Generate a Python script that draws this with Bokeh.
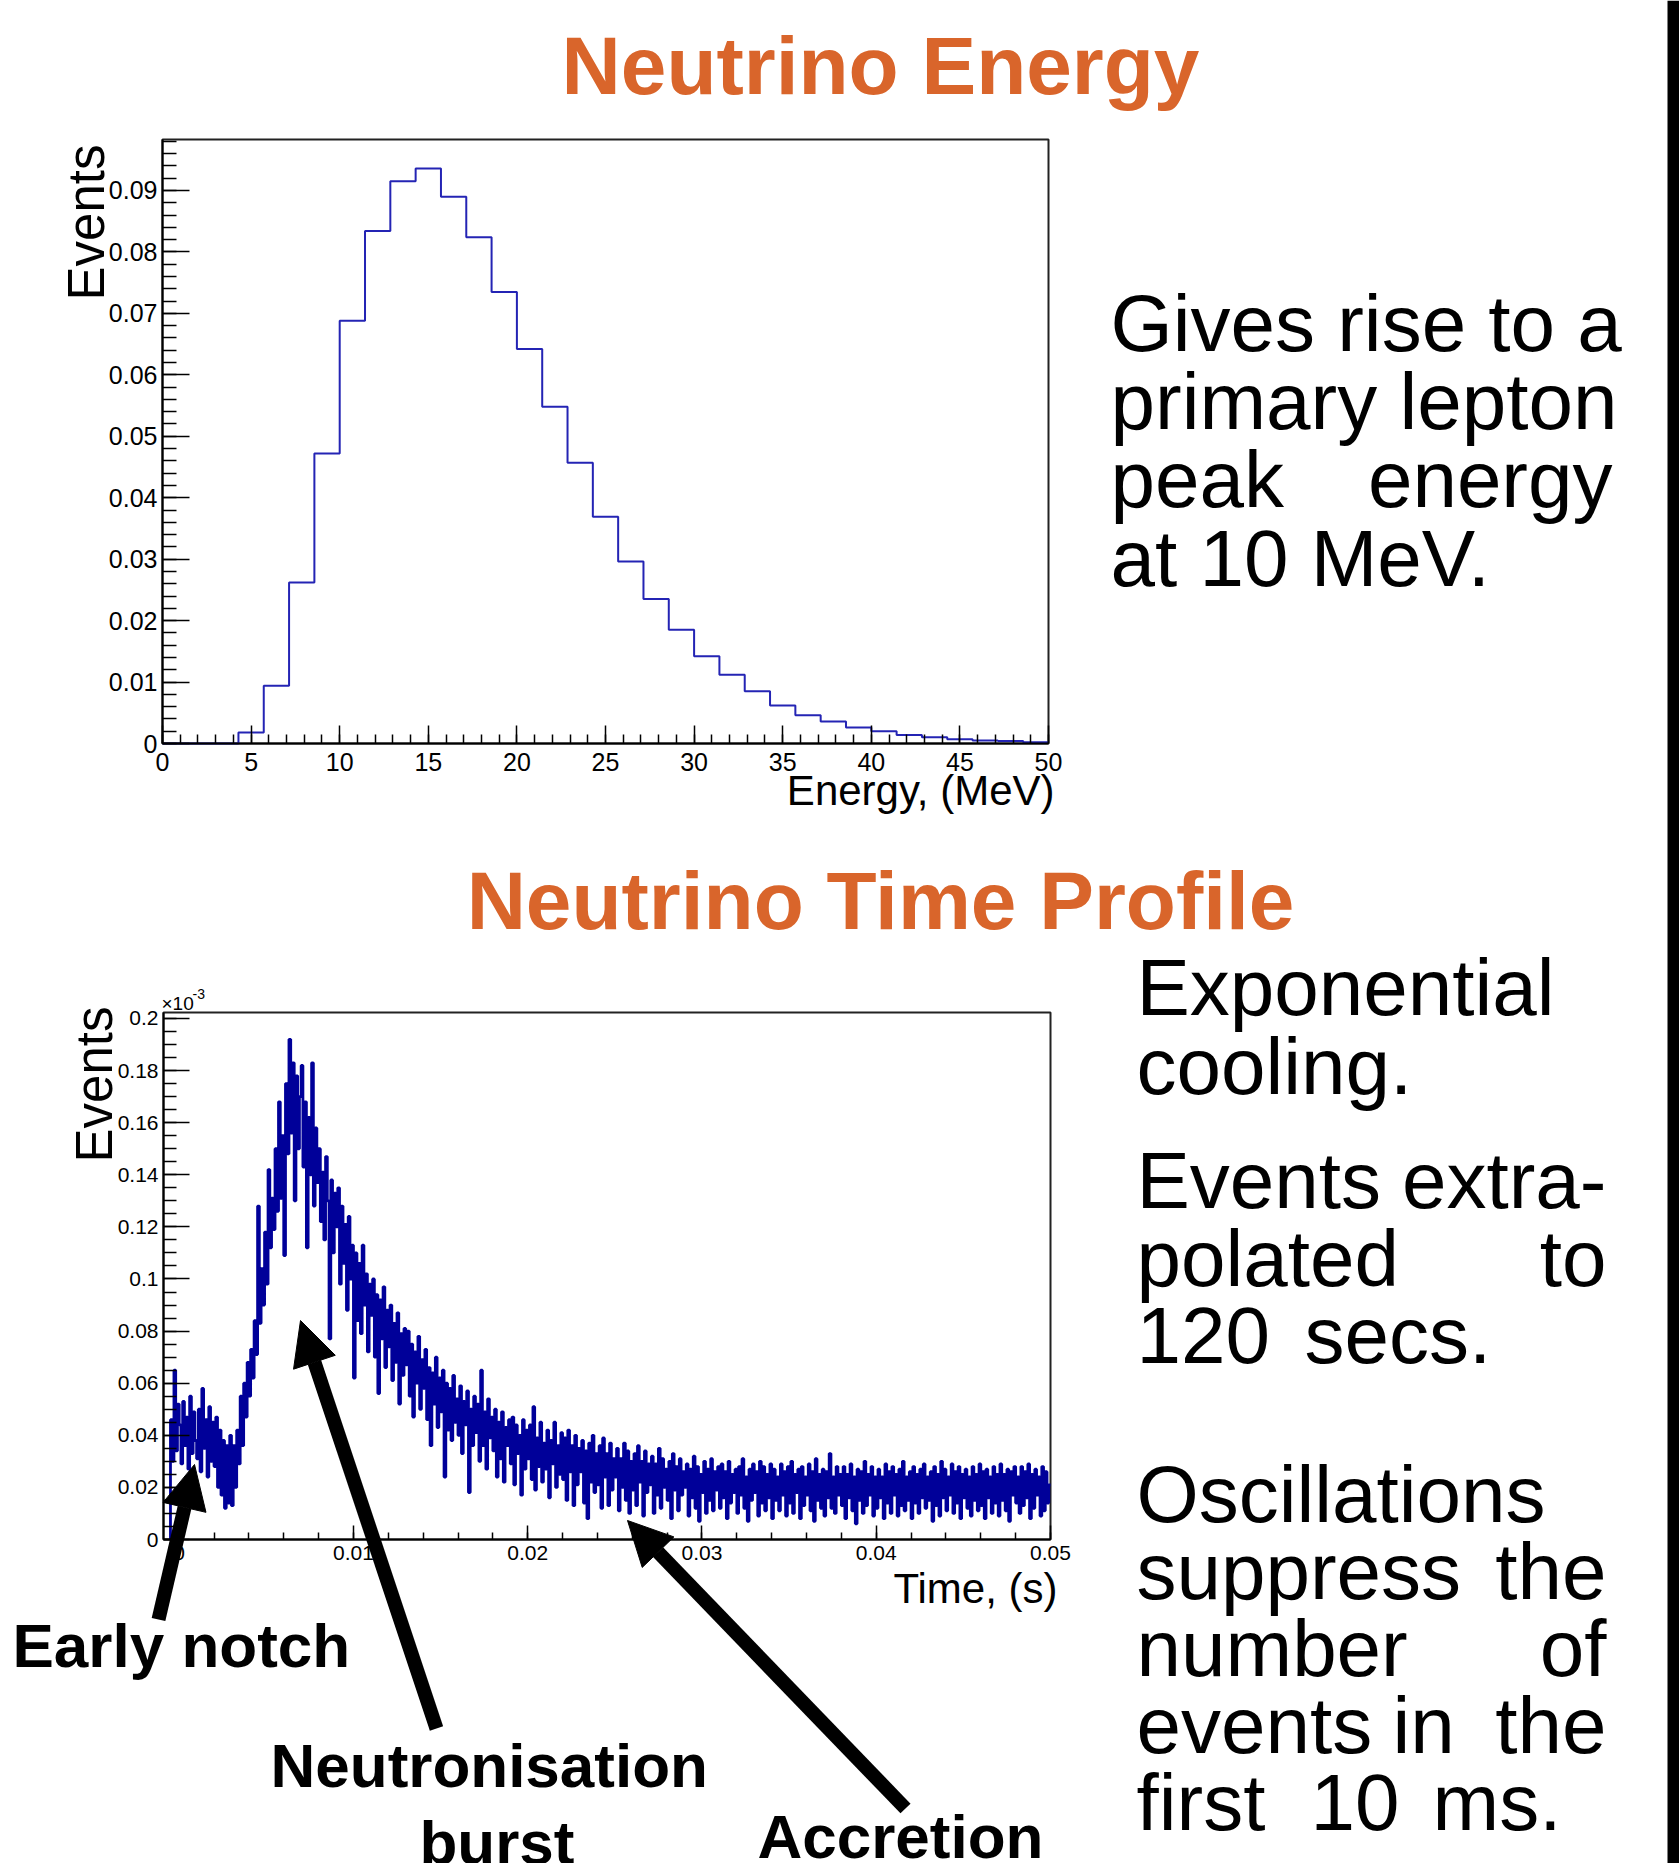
import numpy as np
from bokeh.plotting import figure
from bokeh.models import (Label, Arrow, NormalHead, FixedTicker, Range1d, CustomJSTickFormatter,
                          BoxAnnotation, LinearAxis)
from bokeh.embed import file_html
from bokeh.resources import INLINE

# ---------------------------------------------------------------- data
ENERGY_RANGE = [0.0, 50.0]
ENERGY_NBINS = 35
ENERGY_VALUES = [0.0, 0.0, 0.0, 0.0018, 0.0094, 0.0262, 0.0472, 0.0688, 0.0834, 0.0915,
                 0.0936, 0.0890, 0.0824, 0.0735, 0.0642, 0.0548, 0.0457, 0.0369, 0.0296, 0.0235,
                 0.0185, 0.0142, 0.0112, 0.0085, 0.0062, 0.0046, 0.0036, 0.0026, 0.0020, 0.0014,
                 0.0010, 0.0007, 0.0005, 0.0004, 0.0002]
ENERGY_XTICKS = [0, 5, 10, 15, 20, 25, 30, 35, 40, 45, 50]
ENERGY_XTICK_LABELS = ["0", "5", "10", "15", "20", "25", "30", "35", "40", "45", "50"]
ENERGY_YTICKS = [0, 0.01, 0.02, 0.03, 0.04, 0.05, 0.06, 0.07, 0.08, 0.09]
ENERGY_YTICK_LABELS = ["0", "0.01", "0.02", "0.03", "0.04", "0.05", "0.06", "0.07", "0.08", "0.09"]
ENERGY_YMAX = 0.0983

TIME_RANGE = [-0.0009, 0.05]
TIME_YMAX = 0.2023
TIME_BIN_START = -0.0005
TIME_BIN_WIDTH = 0.0001
# events per bin, in units of 1e-3 (axis multiplier x10^-3)
TIME_VALUES = [
    0.046, 0.030, 0.065, 0.034, 0.052,
    0.044, 0.029, 0.053, 0.036, 0.047, 0.027, 0.055, 0.033, 0.049, 0.038,
    0.031, 0.050, 0.026, 0.058, 0.035, 0.046, 0.024, 0.051, 0.030, 0.045,
    0.028, 0.047, 0.020, 0.042, 0.017, 0.038, 0.012, 0.036, 0.014, 0.040,
    0.013, 0.036, 0.020, 0.042, 0.029, 0.055, 0.036, 0.060, 0.047, 0.068,
    0.055, 0.073, 0.062, 0.084, 0.071, 0.128, 0.083, 0.104, 0.090, 0.118,
    0.098, 0.142, 0.112, 0.131, 0.119, 0.150, 0.126, 0.168, 0.131, 0.155,
    0.109, 0.175, 0.148, 0.192, 0.156, 0.183, 0.130, 0.178, 0.150, 0.170,
    0.182, 0.143, 0.168, 0.112, 0.162, 0.140, 0.183, 0.128, 0.158, 0.137,
    0.150, 0.122, 0.141, 0.115, 0.147, 0.130, 0.077, 0.138, 0.110, 0.133,
    0.120, 0.135, 0.098, 0.128, 0.106, 0.121, 0.088, 0.124, 0.100, 0.113,
    0.062, 0.110, 0.084, 0.106, 0.079, 0.113, 0.090, 0.102, 0.072, 0.098,
    0.086, 0.100, 0.070, 0.094, 0.056, 0.092, 0.077, 0.097, 0.066, 0.088,
    0.074, 0.090, 0.061, 0.083, 0.068, 0.087, 0.052, 0.079, 0.063, 0.081,
    0.067, 0.080, 0.055, 0.075, 0.047, 0.072, 0.060, 0.078, 0.050, 0.069,
    0.058, 0.073, 0.046, 0.066, 0.036, 0.064, 0.052, 0.070, 0.043, 0.062,
    0.049, 0.065, 0.024, 0.060, 0.042, 0.058, 0.038, 0.063, 0.045, 0.054,
    0.040, 0.059, 0.033, 0.053, 0.044, 0.057, 0.018, 0.050, 0.036, 0.055,
    0.041, 0.052, 0.030, 0.065, 0.036, 0.049, 0.027, 0.054, 0.039, 0.047,
    0.034, 0.050, 0.024, 0.045, 0.031, 0.049, 0.022, 0.043, 0.036, 0.046,
    0.029, 0.047, 0.021, 0.044, 0.033, 0.040, 0.017, 0.046, 0.027, 0.042,
    0.031, 0.044, 0.023, 0.051, 0.019, 0.039, 0.028, 0.045, 0.022, 0.037,
    0.027, 0.042, 0.016, 0.038, 0.029, 0.045, 0.020, 0.036, 0.025, 0.041,
    0.023, 0.039, 0.015, 0.042, 0.026, 0.036, 0.013, 0.040, 0.021, 0.035,
    0.026, 0.038, 0.014, 0.034, 0.008, 0.037, 0.022, 0.040, 0.018, 0.033,
    0.021, 0.036, 0.012, 0.039, 0.024, 0.033, 0.013, 0.037, 0.019, 0.031,
    0.024, 0.035, 0.011, 0.031, 0.020, 0.037, 0.015, 0.034, 0.010, 0.030,
    0.019, 0.033, 0.013, 0.036, 0.022, 0.030, 0.009, 0.034, 0.018, 0.029,
    0.021, 0.032, 0.010, 0.029, 0.017, 0.035, 0.012, 0.031, 0.020, 0.027,
    0.015, 0.030, 0.008, 0.033, 0.019, 0.028, 0.011, 0.031, 0.017, 0.026,
    0.020, 0.029, 0.009, 0.027, 0.016, 0.032, 0.012, 0.028, 0.007, 0.025,
    0.018, 0.030, 0.010, 0.027, 0.015, 0.031, 0.011, 0.026, 0.019, 0.028,
    0.012, 0.029, 0.016, 0.026, 0.008, 0.030, 0.014, 0.025, 0.018, 0.027,
    0.010, 0.028, 0.017, 0.031, 0.012, 0.024, 0.007, 0.027, 0.015, 0.029,
    0.018, 0.026, 0.009, 0.030, 0.014, 0.028, 0.011, 0.025, 0.016, 0.029,
    0.008, 0.027, 0.015, 0.024, 0.011, 0.029, 0.017, 0.026, 0.009, 0.028,
    0.014, 0.030, 0.010, 0.025, 0.018, 0.027, 0.008, 0.028, 0.013, 0.024,
    0.017, 0.029, 0.011, 0.026, 0.007, 0.031, 0.015, 0.025, 0.012, 0.027,
    0.009, 0.026, 0.016, 0.033, 0.012, 0.024, 0.010, 0.028, 0.017, 0.025,
    0.013, 0.028, 0.008, 0.025, 0.016, 0.029, 0.011, 0.024, 0.006, 0.027,
    0.015, 0.026, 0.010, 0.030, 0.013, 0.025, 0.017, 0.028, 0.009, 0.024,
    0.012, 0.027, 0.016, 0.024, 0.008, 0.029, 0.014, 0.026, 0.010, 0.028,
    0.017, 0.025, 0.009, 0.027, 0.013, 0.030, 0.011, 0.024, 0.015, 0.026,
    0.008, 0.028, 0.014, 0.025, 0.010, 0.027, 0.016, 0.029, 0.012, 0.024,
    0.015, 0.026, 0.007, 0.028, 0.013, 0.025, 0.009, 0.030, 0.016, 0.027,
    0.011, 0.024, 0.017, 0.029, 0.010, 0.026, 0.014, 0.028, 0.008, 0.025,
    0.016, 0.027, 0.012, 0.024, 0.009, 0.028, 0.015, 0.025, 0.011, 0.029,
    0.013, 0.026, 0.008, 0.027, 0.016, 0.024, 0.010, 0.028, 0.014, 0.025,
    0.009, 0.029, 0.015, 0.025, 0.011, 0.027, 0.007, 0.026, 0.017, 0.028,
    0.014, 0.024, 0.010, 0.028, 0.013, 0.026, 0.016, 0.029, 0.008, 0.025,
    0.012, 0.027, 0.017, 0.024, 0.009, 0.028, 0.011, 0.026, 0.014, 0.021,
]
TIME_XTICKS = [0, 0.01, 0.02, 0.03, 0.04, 0.05]
TIME_XTICK_LABELS = ["0", "0.01", "0.02", "0.03", "0.04", "0.05"]
TIME_YTICKS = [0, 0.02, 0.04, 0.06, 0.08, 0.1, 0.12, 0.14, 0.16, 0.18, 0.2]
TIME_YTICK_LABELS = ["0", "0.02", "0.04", "0.06", "0.08", "0.1", "0.12", "0.14", "0.16", "0.18", "0.2"]

# ---------------------------------------------------------------- page layout (pixels, y down)
PAGE_W = 1679
PAGE_H = 1863
E_FRAME = dict(l=162, r=1048, t=139, b=743)    # energy chart frame
T_FRAME = dict(l=163, r=1050, t=1012, b=1539)  # time chart frame

ORANGE = "#D9652B"
SANS = "Liberation Sans"
BASELINE_FIX = 0.36   # em shift so that the label baseline lands where intended


def page_range_x(fr, lo, hi):
    s = (hi - lo) / (fr["r"] - fr["l"])
    return Range1d(start=lo - fr["l"] * s, end=hi + (PAGE_W - fr["r"]) * s)


def page_range_y(fr, lo, hi):
    s = (hi - lo) / (fr["b"] - fr["t"])
    return Range1d(start=lo - (PAGE_H - fr["b"]) * s, end=hi + fr["t"] * s)


p = figure(width=PAGE_W, height=PAGE_H, x_range=Range1d(start=0, end=PAGE_W),
           y_range=Range1d(start=PAGE_H, end=0), output_backend="svg", toolbar_location=None,
           min_border=0, x_axis_type=None, y_axis_type=None)
p.background_fill_color = "white"
p.border_fill_color = "white"
p.outline_line_color = None
p.grid.visible = False
p.extra_x_ranges = {"ex": page_range_x(E_FRAME, ENERGY_RANGE[0], ENERGY_RANGE[1]),
                    "tx": page_range_x(T_FRAME, TIME_RANGE[0], TIME_RANGE[1])}
p.extra_y_ranges = {"ey": page_range_y(E_FRAME, 0.0, ENERGY_YMAX),
                    "ty": page_range_y(T_FRAME, 0.0, TIME_YMAX)}


def label_formatter(tv, tl):
    return CustomJSTickFormatter(args=dict(tv=tv, tl=tl), code="""
        let best = 0, d = Infinity;
        for (let i = 0; i < tv.length; i++) {
            const e = Math.abs(tv[i] - tick);
            if (e < d) { d = e; best = i; }
        }
        return tl[best];
    """)


def make_axis(side, xr, yr, loc, bounds, ticks, minor, labels, tick_in, minor_in, size, standoff):
    ax = LinearAxis(x_range_name=xr, y_range_name=yr, fixed_location=loc, bounds=bounds)
    ax.ticker = FixedTicker(ticks=ticks, minor_ticks=minor)
    ax.formatter = label_formatter(ticks, labels)
    ax.major_tick_in = tick_in
    ax.major_tick_out = 0
    ax.minor_tick_in = minor_in
    ax.minor_tick_out = 0
    ax.axis_line_color = "black"
    ax.axis_line_width = 2
    ax.major_tick_line_color = "black"
    ax.major_tick_line_width = 1.5
    ax.minor_tick_line_color = "black"
    ax.minor_tick_line_width = 1.5
    ax.major_label_text_font = SANS
    ax.major_label_text_font_size = f"{size}px"
    ax.major_label_text_color = "black"
    ax.major_label_standoff = standoff
    p.add_layout(ax, side)


def frame_box(xr, yr, x0, x1, y1):
    p.add_layout(BoxAnnotation(left=x0, right=x1, bottom=0.0, top=y1, x_range_name=xr,
                               y_range_name=yr, fill_color=None, line_color="#222222",
                               line_alpha=1.0, line_width=2, level="underlay"))


# ---------------------------------------------------------------- energy chart
frame_box("ex", "ey", ENERGY_RANGE[0], ENERGY_RANGE[1], ENERGY_YMAX)
e_edges = np.linspace(ENERGY_RANGE[0], ENERGY_RANGE[1], ENERGY_NBINS + 1)
p.step(x=e_edges, y=ENERGY_VALUES + [ENERGY_VALUES[-1]], mode="after",
       line_color="#2424B4", line_width=2, x_range_name="ex", y_range_name="ey")
make_axis("below", "ex", "ey", 0.0, (ENERGY_RANGE[0], ENERGY_RANGE[1]), ENERGY_XTICKS,
          list(range(0, 51)), ENERGY_XTICK_LABELS, 18, 9, 25, 9)
make_axis("left", "ex", "ey", 0.0, (0.0, ENERGY_YMAX), ENERGY_YTICKS,
          [round(i * 0.002, 3) for i in range(50)], ENERGY_YTICK_LABELS, 27, 14, 25, 5)

# ---------------------------------------------------------------- time chart
frame_box("tx", "ty", TIME_RANGE[0], TIME_RANGE[1], TIME_YMAX)
t_edges = TIME_BIN_START + TIME_BIN_WIDTH * np.arange(len(TIME_VALUES) + 1)
p.step(x=np.concatenate([[t_edges[0]], t_edges]), y=[0.0] + TIME_VALUES + [TIME_VALUES[-1]],
       mode="after", line_color="#000099", line_width=2.8, x_range_name="tx", y_range_name="ty")
make_axis("below", "tx", "ty", 0.0, (TIME_RANGE[0], TIME_RANGE[1]), TIME_XTICKS,
          [round(i * 0.002, 3) for i in range(26)], TIME_XTICK_LABELS, 14, 7, 21, 6)
make_axis("left", "tx", "ty", TIME_RANGE[0], (0.0, TIME_YMAX), TIME_YTICKS,
          [round(i * 0.005, 3) for i in range(41)], TIME_YTICK_LABELS, 26, 13, 21, 5)


# ---------------------------------------------------------------- texts & arrows (page pixels)
def add_text(px, py, text, size, bold=False, color="black", align="left", font=SANS, vertical=False):
    shift = BASELINE_FIX * size
    if vertical:
        x, y, angle = px - shift, py, np.pi / 2
    else:
        x, y, angle = px, py - shift, 0.0
    p.add_layout(Label(x=x, y=y, text=text, text_font=font, text_font_size=f"{size}px",
                       text_font_style="bold" if bold else "normal", text_color=color,
                       text_align=align, text_baseline="alphabetic", angle=angle))


def add_arrow(tail, tip):
    p.add_layout(Arrow(end=NormalHead(size=44, fill_color="black", line_color="black", line_width=1),
                       x_start=tail[0], y_start=tail[1], x_end=tip[0], y_end=tip[1],
                       line_color="black", line_width=14))


add_text(880, 95, "Neutrino Energy", 82, bold=True, color=ORANGE, align="center")
add_text(104, 300, "Events", 51, vertical=True)
add_text(1054, 805, "Energy, (MeV)", 42, align="right")
add_text(880, 930, "Neutrino Time Profile", 82, bold=True, color=ORANGE, align="center")
add_text(112, 1162, "Events", 51, vertical=True)
add_text(161, 1010, "\u00d710", 19)
add_text(192, 999, "-3", 14)
add_text(1057, 1603, "Time, (s)", 42, align="right")

add_text(1110, 352, "Gives rise to a", 80)
add_text(1110, 430, "primary lepton", 80)
add_text(1110, 508, "peak", 80)
add_text(1612, 508, "energy", 80, align="right")
add_text(1110, 587, "at 10 MeV.", 80)

RL, RR = 1136, 1606
add_text(RL, 1016, "Exponential", 80)
add_text(RL, 1095, "cooling.", 80)
add_text(RL, 1209, "Events", 80)
add_text(RR, 1209, "extra-", 80, align="right")
add_text(RL, 1287, "polated", 80)
add_text(RR, 1287, "to", 80, align="right")
add_text(RL, 1364, "120", 80)
add_text(1304, 1364, "secs.", 80)
add_text(RL, 1523, "Oscillations", 80)
add_text(RL, 1600, "suppress", 80)
add_text(RR, 1600, "the", 80, align="right")
add_text(RL, 1677, "number", 80)
add_text(RR, 1677, "of", 80, align="right")
add_text(RL, 1754, "events", 80)
add_text(1392, 1754, "in", 80)
add_text(RR, 1754, "the", 80, align="right")
add_text(RL, 1831, "first", 80)
add_text(1310, 1831, "10", 80)
add_text(1432, 1831, "ms.", 80)

add_text(12, 1667, "Early notch", 62, bold=True)
add_text(270, 1787, "Neutronisation", 62, bold=True)
add_text(419, 1864, "burst", 62, bold=True)
add_text(757, 1858, "Accretion", 62, bold=True)
add_arrow((158, 1619), (194, 1464))
add_arrow((436, 1728), (300, 1320))
add_arrow((905, 1808), (627, 1520))

p.add_layout(BoxAnnotation(left=1667, right=PAGE_W, top=0, bottom=PAGE_H,
                           fill_color="black", fill_alpha=1.0, line_color=None))

open("out.html", "w").write(file_html(p, INLINE))
